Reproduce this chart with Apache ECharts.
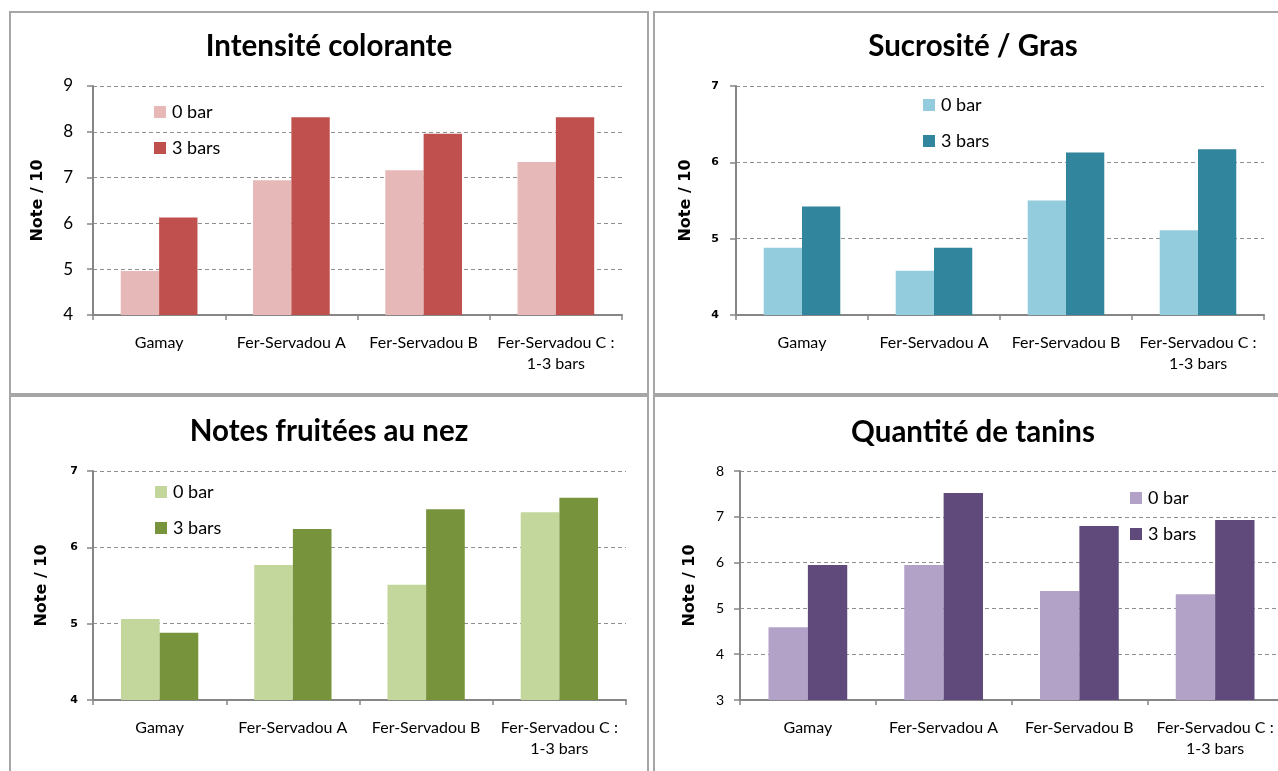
<!DOCTYPE html>
<html>
<head>
<meta charset="utf-8">
<script src="https://cdn.jsdelivr.net/npm/echarts@6/dist/echarts.min.js"></script>
<style>
  html, body { margin: 0; padding: 0; background: #fff; width: 1278px; height: 771px; overflow: hidden; }
  .panel { position: absolute; }
  .frame { position: absolute; box-sizing: border-box; border: 2px solid #a6a6a6; pointer-events: none; }
</style>
</head>
<body>
<div id="p1" class="panel"></div>
<div id="p2" class="panel"></div>
<div id="p3" class="panel"></div>
<div id="p4" class="panel"></div>
<div id="f1" class="frame"></div>
<div id="f2" class="frame"></div>
<div id="f3" class="frame"></div>
<div id="f4" class="frame"></div>
<script>
// Wine tasting scores (out of 10), two treatments per grape variety
const categories = ['Gamay', 'Fer-Servadou A', 'Fer-Servadou B', 'Fer-Servadou C :\n1-3 bars'];
const seriesNames = ['0 bar', '3 bars'];

const intensite0 = [4.96, 6.94, 7.16, 7.34];
const intensite3 = [6.13, 8.32, 7.96, 8.32];

const sucrosite0 = [4.88, 4.58, 5.50, 5.11];
const sucrosite3 = [5.42, 4.88, 6.13, 6.17];

const fruite0 = [5.06, 5.77, 5.51, 6.46];
const fruite3 = [4.88, 6.24, 6.50, 6.65];

const tanins0 = [4.59, 5.95, 5.38, 5.31];
const tanins3 = [5.95, 7.52, 6.80, 6.93];

// value axis ranges [min, max] with a step of 1
const intensiteAxis = [4, 9];
const sucrositeAxis = [4, 7];
const fruiteAxis = [4, 7];
const taninsAxis = [3, 8];

const titles = ['Intensité colorante', 'Sucrosité / Gras', 'Notes fruitées au nez', 'Quantité de tanins'];
const yName = 'Note / 10';

const panels = [
  { id: 'p1', frame: 'f1', box: [9, 11, 640, 384], title: titles[0], top: 18,
    data: [intensite0, intensite3], axis: intensiteAxis, colors: ['#E6B9B8', '#C0504D'],
    grid: [84, 75, 529, 229], legend: [145, 91], nameGap: 47,
    tick: { fontFamily: 'Lato', fontSize: 17, fontWeight: 'normal', margin: 20 } },
  { id: 'p2', frame: 'f2', box: [653, 11, 640, 384], title: titles[1], top: 18,
    data: [sucrosite0, sucrosite3], axis: sucrositeAxis, colors: ['#93CDDD', '#31859C'],
    grid: [83, 75, 528, 229], legend: [270, 84], nameGap: 42,
    tick: { fontFamily: 'DejaVu Sans', fontSize: 11, fontWeight: 'bold', margin: 17 } },
  { id: 'p3', frame: 'f3', box: [9, 395, 640, 384], title: titles[2], top: 19,
    data: [fruite0, fruite3], axis: fruiteAxis, colors: ['#C3D69B', '#77933C'],
    grid: [84, 76, 533, 229], legend: [146, 87], nameGap: 43,
    tick: { fontFamily: 'DejaVu Sans', fontSize: 11, fontWeight: 'bold', margin: 15 } },
  { id: 'p4', frame: 'f4', box: [653, 395, 640, 384], title: titles[3], top: 20,
    data: [tanins0, tanins3], axis: taninsAxis, colors: ['#B3A2C7', '#604A7B'],
    grid: [87, 76, 543, 229], legend: [477, 93], nameGap: 42,
    tick: { fontFamily: 'Lato', fontSize: 14, fontWeight: 'normal', margin: 16 } }
];

const axisGray = '#868686';

panels.forEach(function (p) {
  const el = document.getElementById(p.id);
  const fr = document.getElementById(p.frame);
  [el, fr].forEach(function (d) {
    d.style.left = p.box[0] + 'px';
    d.style.top = p.box[1] + 'px';
    d.style.width = p.box[2] + 'px';
    d.style.height = p.box[3] + 'px';
  });

  const chart = echarts.init(el, null, { renderer: 'canvas' });
  chart.setOption({
    animation: false,
    title: {
      text: p.title,
      left: 'center',
      top: p.top,
      padding: 0,
      textStyle: { fontFamily: 'Lato', fontWeight: 'bold', fontSize: 29.5, lineHeight: 35, color: '#000' }
    },
    legend: {
      orient: 'vertical',
      left: p.legend[0],
      top: p.legend[1],
      padding: 0,
      itemWidth: 12,
      itemHeight: 12,
      itemGap: 16,
      icon: 'rect',
      data: seriesNames,
      textStyle: { fontFamily: 'Lato', fontSize: 18, lineHeight: 20, color: '#000', padding: [0, 0, 0, 1] }
    },
    grid: { left: p.grid[0], top: p.grid[1], width: p.grid[2], height: p.grid[3], containLabel: false },
    xAxis: {
      type: 'category',
      data: categories,
      boundaryGap: true,
      axisLine: { show: true, lineStyle: { color: axisGray, width: 2 } },
      axisTick: { show: true, alignWithLabel: false, length: 5, lineStyle: { color: axisGray, width: 1.5 } },
      axisLabel: { interval: 0, margin: 17, fontFamily: 'Lato', fontSize: 16, lineHeight: 21, color: '#000' },
      splitLine: { show: false }
    },
    yAxis: {
      type: 'value',
      min: p.axis[0],
      max: p.axis[1],
      interval: 1,
      name: yName,
      nameLocation: 'middle',
      nameRotate: 90,
      nameGap: p.nameGap,
      nameTextStyle: { fontFamily: 'DejaVu Sans', fontWeight: 'bold', fontSize: 16, color: '#000' },
      axisLine: { show: true, lineStyle: { color: axisGray, width: 2 } },
      axisTick: { show: true, inside: false, length: 6, lineStyle: { color: axisGray, width: 1.5 } },
      axisLabel: {
        margin: p.tick.margin,
        fontFamily: p.tick.fontFamily,
        fontSize: p.tick.fontSize,
        fontWeight: p.tick.fontWeight,
        color: '#000'
      },
      splitLine: { show: true, lineStyle: { color: '#8f8f8f', width: 1, type: [4, 3] } }
    },
    series: p.data.map(function (vals, i) {
      return {
        name: seriesNames[i],
        type: 'bar',
        data: vals,
        barGap: '0%',
        barCategoryGap: '42%',
        itemStyle: { color: p.colors[i] },
        emphasis: { disabled: true }
      };
    })
  });
});
</script>
</body>
</html>
